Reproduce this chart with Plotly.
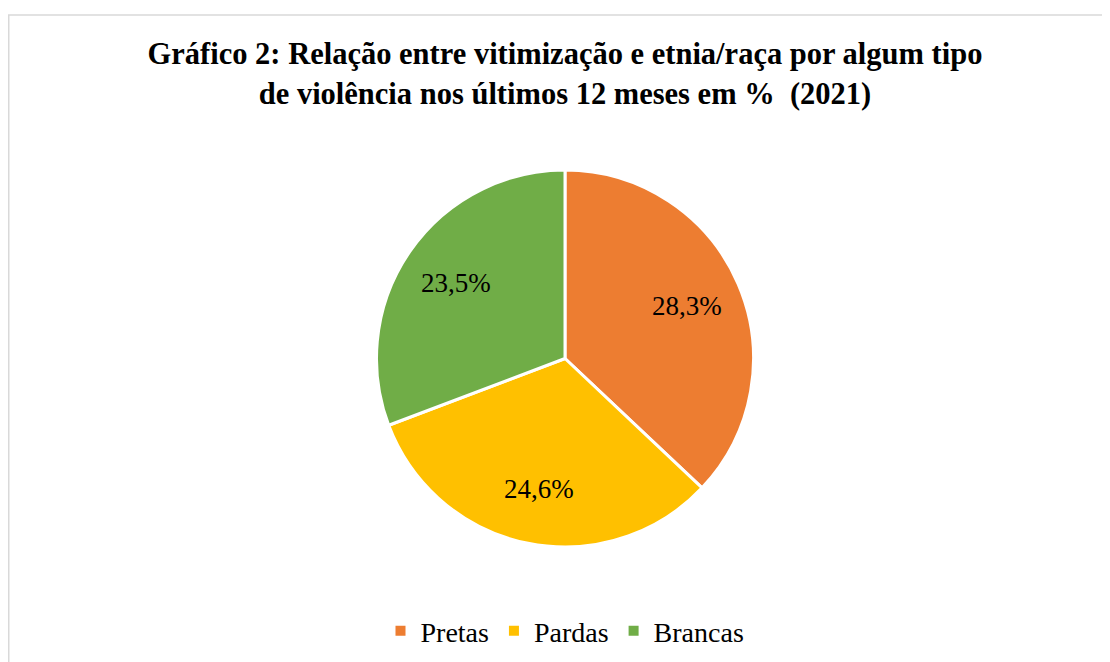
import math
import plotly.graph_objects as go

categories = ["Pretas", "Pardas", "Brancas"]
values = [28.3, 24.6, 23.5]
colors = ["#ED7D31", "#FFC000", "#70AD47"]

# figure sits 8px in from the page corner (browser body margin)
OFF = 8
W, H = 1110 - OFF, 662 - OFF


def px(x):
    return (x - OFF) / W


def py(y):
    return 1 - (y - OFF) / H


cx, cy, r = 565, 358.5, 188.5
FONT = "Liberation Serif"

fig = go.Figure(go.Pie(
    labels=categories,
    values=values,
    sort=False,
    direction="clockwise",
    rotation=0,
    marker=dict(colors=colors, line=dict(color="white", width=3)),
    textinfo="none",
    domain=dict(x=[px(cx - r), px(cx + r)], y=[py(cy + r), py(cy - r)]),
    hoverinfo="label+value",
))

# data labels placed along each slice's mid-angle
total = sum(values)
cum = 0.0
label_frac = 0.71
annotations = []
for v in values:
    mid = (cum + v / 2) / total * 2 * math.pi
    cum += v
    lx = cx + label_frac * 187 * math.sin(mid)
    ly = cy - label_frac * 187 * math.cos(mid)
    annotations.append(dict(
        x=px(lx), y=py(ly), xref="paper", yref="paper",
        text=f"{v:.1f}%".replace(".", ","), showarrow=False,
        xanchor="center", yanchor="middle",
        font=dict(family=FONT, size=27, color="black"),
    ))

fig.update_layout(
    width=W, height=H,
    margin=dict(l=0, r=0, t=0, b=0),
    paper_bgcolor="white",
    title=dict(
        text="<b>Gráfico 2: Relação entre vitimização e etnia/raça por algum tipo<br>de violência nos últimos 12 meses em %  (2021)</b>",
        x=px(cx), xanchor="center", y=py(64), yanchor="top",
        font=dict(family=FONT, size=30.5, color="black"),
    ),
    legend=dict(
        orientation="h", x=px(cx), xanchor="center", y=py(631), yanchor="middle",
        font=dict(family=FONT, size=28, color="black"),
        itemsizing="constant",
    ),
    annotations=annotations,
    shapes=[dict(type="rect", xref="paper", yref="paper",
                 x0=0.75 / W, x1=1.02, y0=-0.02, y1=py(15),
                 line=dict(color="#D9D9D9", width=1.5), fillcolor="rgba(0,0,0,0)", layer="below")],
)

fig.write_html("out.html")
